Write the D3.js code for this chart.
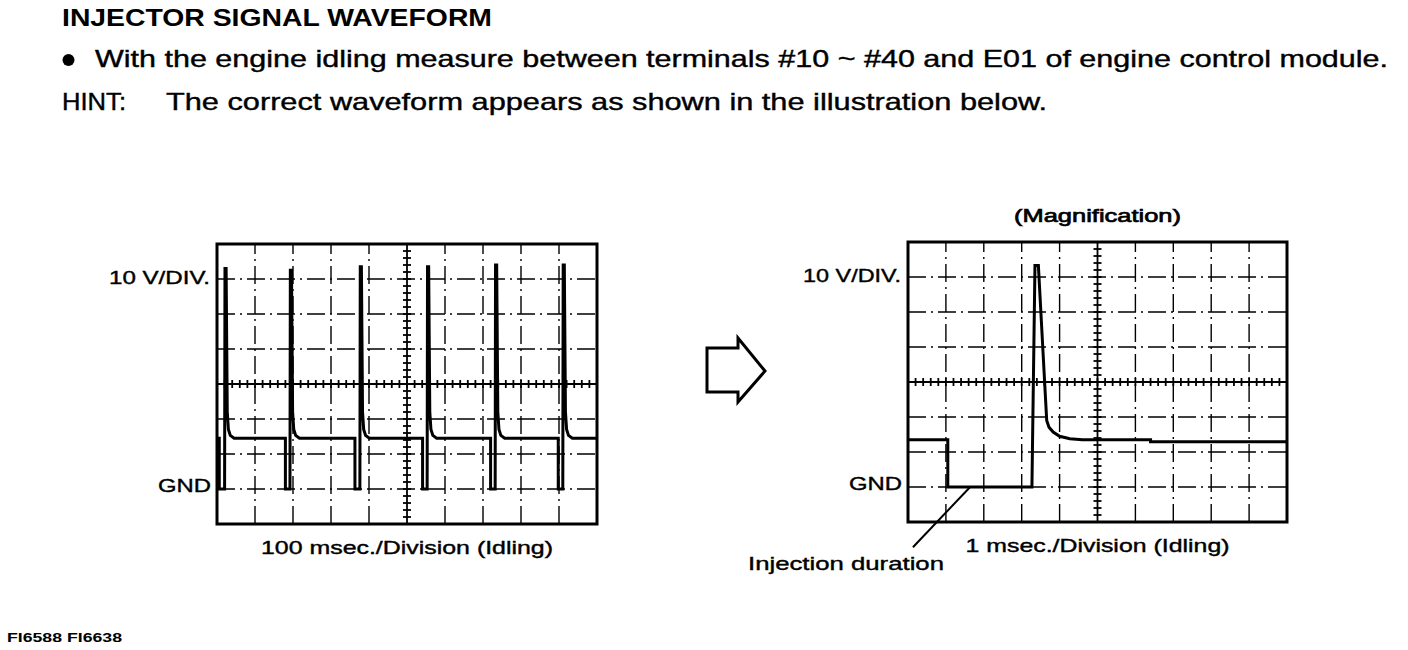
<!DOCTYPE html>
<meta charset="utf-8">
<head>
    <title>Injector Signal Waveform</title>
    <script src="https://d3js.org/d3.v7.min.js"></script>
</head>
<body>
<style>
    body {
        margin: 0;
        background-color: #ffffff;
        font-family: "Liberation Sans", Arial, sans-serif;
    }
    .grid line {
        stroke: #000;
        stroke-width: 1.4px;
        stroke-dasharray: 18 5 2 5;
    }
    .center line {
        stroke: #000;
        stroke-width: 1.8px;
    }
    .frame {
        fill: none;
        stroke: #000;
        stroke-width: 3px;
    }
    .trace {
        fill: none;
        stroke: #000;
        stroke-width: 3px;
        stroke-linejoin: miter;
    }
    .lbl {
        font-size: 19px;
        fill: #000;
        stroke: #000;
        stroke-width: 0.4px;
    }
</style>
<svg id="chart" width="1408" height="650"></svg>
<script>
    // values
    // idling trace, 100 ms/div : [time ms, volts]
    var idleTrace = [
        [0, 14.5],
        [6, 14.5], [6, 0], [20, 0], [21, 63], [24, 63], [27, 22], [30, 17], [35, 15.3], [45, 14.5],
        [180, 14.5], [180, 0], [192, 0], [193, 62.5], [196, 62.5], [199, 22], [202, 17], [207, 15.3], [217, 14.5],
        [363, 14.5], [363, 0], [376, 0], [377, 63.5], [380, 63.5], [383, 22], [386, 17], [391, 15.3], [401, 14.5],
        [541, 14.5], [541, 0], [553, 0], [554, 63.5], [557, 63.5], [560, 22], [563, 17], [568, 15.3], [578, 14.5],
        [720, 14.5], [720, 0], [732, 0], [733, 64], [736, 64], [739, 22], [742, 17], [747, 15.3], [757, 14.5],
        [898, 14.5], [898, 0], [910, 0], [911, 64], [914, 64], [917, 22], [920, 17], [925, 15.3], [935, 14.5],
        [1000, 14.5]
    ];

    // magnified trace, 1 ms/div : [time ms, volts]
    var magTrace = [
        [0, 13.5], [1.05, 13.5], [1.05, 0], [3.27, 0], [3.35, 63.3], [3.44, 63.3],
        [3.59, 33], [3.66, 19], [3.72, 17.1], [3.83, 15.7], [4.0, 14.5], [4.27, 13.8],
        [4.6, 13.5], [6.4, 13.5], [6.4, 12.9], [10, 12.9]
    ];

    // leader line from "Injection duration" to the low part of the pulse
    var durationPointer = [[0.13, -17.2], [1.64, 0]];

    var voltDomain = [-10, 70];   // 8 divisions of 10 V, GND one div above bottom
    var idleDomain = [0, 1000];   // 10 divisions of 100 ms
    var magDomain = [0, 10];      // 10 divisions of 1 ms

    var svg = d3.select("#chart");

    function drawScope(opt) {
        var x = d3.scaleLinear().domain(opt.xDomain).range([opt.left, opt.left + opt.width]);
        var y = d3.scaleLinear().domain(voltDomain).range([opt.top + opt.height, opt.top]);
        var g = svg.append("g");

        var xMajor = x.ticks(10),
            yMajor = y.ticks(8);
        var xMid = xMajor[5],
            yMid = 30;

        // grid
        var grid = g.append("g").attr("class", "grid");
        grid.selectAll(".vx")
            .data(xMajor.slice(1, -1).filter(function(d) { return d !== xMid; }))
            .enter().append("line")
            .attr("x1", x).attr("x2", x)
            .attr("y1", y(voltDomain[0])).attr("y2", y(voltDomain[1]));
        grid.selectAll(".hy")
            .data(yMajor.slice(1, -1).filter(function(d) { return d !== yMid; }))
            .enter().append("line")
            .attr("y1", y).attr("y2", y)
            .attr("x1", x(opt.xDomain[0])).attr("x2", x(opt.xDomain[1]));

        // center cross with minor ticks (5 per division)
        var center = g.append("g").attr("class", "center");
        center.append("line")
            .attr("x1", x(xMid)).attr("x2", x(xMid))
            .attr("y1", y(voltDomain[0])).attr("y2", y(voltDomain[1]));
        center.append("line")
            .attr("y1", y(yMid)).attr("y2", y(yMid))
            .attr("x1", x(opt.xDomain[0])).attr("x2", x(opt.xDomain[1]));

        var xStep = (opt.xDomain[1] - opt.xDomain[0]) / 50;
        center.selectAll(".tx")
            .data(d3.range(1, 50).map(function(i) { return opt.xDomain[0] + i * xStep; }))
            .enter().append("line")
            .attr("x1", x).attr("x2", x)
            .attr("y1", y(yMid) - 4).attr("y2", y(yMid) + 4);
        center.selectAll(".ty")
            .data(d3.range(1, 40).map(function(i) { return voltDomain[0] + i * 2; }))
            .enter().append("line")
            .attr("y1", y).attr("y2", y)
            .attr("x1", x(xMid) - 4).attr("x2", x(xMid) + 4);

        // frame
        g.append("rect")
            .attr("class", "frame")
            .attr("x", x(opt.xDomain[0])).attr("y", y(voltDomain[1]))
            .attr("width", x(opt.xDomain[1]) - x(opt.xDomain[0]))
            .attr("height", y(voltDomain[0]) - y(voltDomain[1]));

        // trace
        var line = d3.line()
            .x(function(d) { return x(d[0]); })
            .y(function(d) { return y(d[1]); });
        g.append("path")
            .datum(opt.trace)
            .attr("class", "trace")
            .attr("d", line);

        // labels
        g.append("text").attr("class", "lbl")
            .attr("x", x(opt.xDomain[0]) - 7 - opt.voltWidth).attr("y", y(60) + 5)
            .attr("textLength", opt.voltWidth)
            .attr("lengthAdjust", "spacingAndGlyphs")
            .text("10 V/DIV.");
        g.append("text").attr("class", "lbl")
            .attr("x", x(opt.xDomain[0]) - 6 - 53).attr("y", y(0) + 3)
            .attr("textLength", 53)
            .attr("lengthAdjust", "spacingAndGlyphs")
            .text("GND");
        g.append("text").attr("class", "lbl")
            .attr("x", x(xMid)).attr("y", y(voltDomain[0]) + 30)
            .attr("text-anchor", "middle")
            .attr("textLength", opt.captionWidth)
            .attr("lengthAdjust", "spacingAndGlyphs")
            .text(opt.caption);

        return {x: x, y: y, g: g};
    }

    drawScope({
        left: 217, top: 244, width: 380, height: 280,
        xDomain: idleDomain, trace: idleTrace, voltWidth: 101,
        caption: "100 msec./Division (Idling)", captionWidth: 292
    });

    var mag = drawScope({
        left: 908, top: 242, width: 379, height: 280,
        xDomain: magDomain, trace: magTrace, voltWidth: 98,
        caption: "1 msec./Division (Idling)", captionWidth: 264
    });

    mag.g.append("text").attr("class", "lbl")
        .attr("x", mag.x(5)).attr("y", mag.y(70) - 20)
        .attr("text-anchor", "middle")
        .attr("textLength", 167)
        .attr("lengthAdjust", "spacingAndGlyphs")
        .style("stroke-width", "0.7px")
        .text("(Magnification)");

    mag.g.append("path")
        .datum(durationPointer)
        .attr("fill", "none")
        .attr("stroke", "#000")
        .attr("stroke-width", 2)
        .attr("d", d3.line()
            .x(function(d) { return mag.x(d[0]); })
            .y(function(d) { return mag.y(d[1]); }));

    mag.g.append("text").attr("class", "lbl")
        .attr("x", 748).attr("y", 570)
        .attr("textLength", 196)
        .attr("lengthAdjust", "spacingAndGlyphs")
        .text("Injection duration");

    // hollow arrow between the two screens
    svg.append("path")
        .attr("d", "M707,348 L738,348 L738,338 L765,371 L738,402 L738,392 L707,392 Z")
        .attr("fill", "none")
        .attr("stroke", "#000")
        .attr("stroke-width", 3)
        .attr("stroke-linejoin", "miter");

    // heading text
    svg.append("text")
        .attr("x", 62).attr("y", 26)
        .attr("font-size", 23).attr("font-weight", "bold")
        .attr("textLength", 430).attr("lengthAdjust", "spacingAndGlyphs")
        .text("INJECTOR SIGNAL WAVEFORM");

    svg.append("circle")
        .attr("cx", 68.5).attr("cy", 60).attr("r", 6);

    svg.append("text").attr("class", "lbl")
        .attr("x", 95).attr("y", 67)
        .style("font-size", "24px")
        .attr("textLength", 1293).attr("lengthAdjust", "spacingAndGlyphs")
        .text("With the engine idling measure between terminals #10 ~ #40 and E01 of engine control module.");

    svg.append("text").attr("class", "lbl")
        .attr("x", 62).attr("y", 110)
        .style("font-size", "24px")
        .attr("textLength", 64).attr("lengthAdjust", "spacingAndGlyphs")
        .text("HINT:");

    svg.append("text").attr("class", "lbl")
        .attr("x", 166).attr("y", 110)
        .style("font-size", "24px")
        .attr("textLength", 881).attr("lengthAdjust", "spacingAndGlyphs")
        .text("The correct waveform appears as shown in the illustration below.");

    svg.append("text")
        .attr("x", 7).attr("y", 642)
        .attr("font-size", 12).attr("font-weight", "bold")
        .attr("textLength", 115).attr("lengthAdjust", "spacingAndGlyphs")
        .text("FI6588  FI6638");
</script>
</body>
